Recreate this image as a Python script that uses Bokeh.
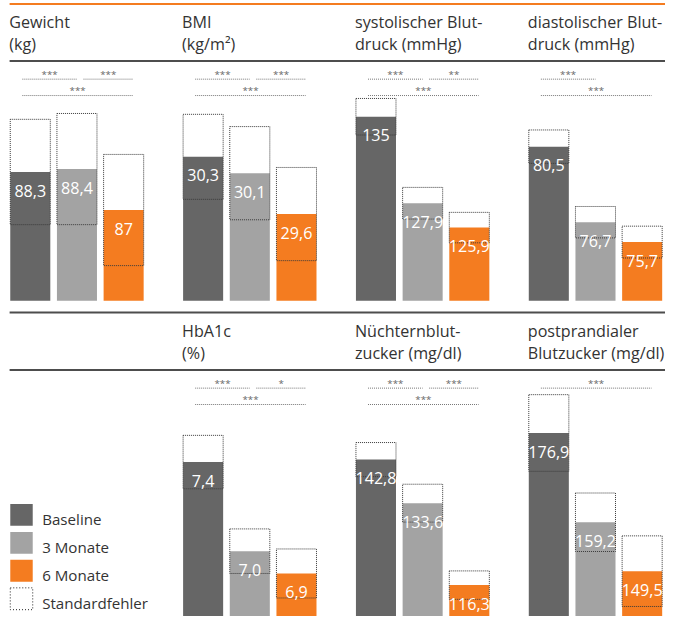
from bokeh.plotting import figure
from bokeh.models import FactorRange, Range1d, ColumnDataSource
from bokeh.layouts import column
from bokeh.transform import dodge
from bokeh.embed import file_html
from bokeh.resources import INLINE
from bokeh.core.properties import value

# ---------------- data ----------------
series = ["Baseline", "3 Monate", "6 Monate"]
series_colors = ["#666666", "#a3a3a3", "#f47c20"]
se_label = "Standardfehler"

row1_keys = ["Gewicht", "BMI", "systolischer Blutdruck", "diastolischer Blutdruck"]
row1_titles = ["Gewicht\n(kg)", "BMI\n(kg/m²)", "systolischer Blut-\ndruck (mmHg)", "diastolischer Blut-\ndruck (mmHg)"]
row2_keys = ["Legende", "HbA1c", "Nüchternblutzucker", "postprandialer Blutzucker"]
row2_titles = ["", "HbA1c\n(%)", "Nüchternblut-\nzucker (mg/dl)", "postprandialer\nBlutzucker (mg/dl)"]

gewicht_mean = [88.3, 88.4, 87.0]
gewicht_se = [1.8, 1.9, 1.9]
gewicht_labels = ["88,3", "88,4", "87"]
gewicht_axis = [83.9, 90.83]
gewicht_sig = [(0, 1, "***"), (1, 2, "***"), (0, 2, "***")]

bmi_mean = [30.3, 30.1, 29.6]
bmi_se = [0.52, 0.57, 0.57]
bmi_labels = ["30,3", "30,1", "29,6"]
bmi_axis = [28.54, 31.02]
bmi_sig = [(0, 1, "***"), (1, 2, "***"), (0, 2, "***")]

sys_mean = [135.0, 127.9, 125.9]
sys_se = [1.5, 1.3, 1.25]
sys_labels = ["135", "127,9", "125,9"]
sys_axis = [119.9, 136.54]
sys_sig = [(0, 1, "***"), (1, 2, "**"), (0, 2, "***")]

dia_mean = [80.5, 76.7, 75.7]
dia_se = [0.84, 0.79, 0.8]
dia_labels = ["80,5", "76,7", "75,7"]
dia_axis = [72.75, 82.95]
dia_sig = [(0, 1, "***"), (0, 2, "***")]

hba1c_mean = [7.4, 7.0, 6.9]
hba1c_se = [0.12, 0.10, 0.11]
hba1c_labels = ["7,4", "7,0", "6,9"]
hba1c_axis = [6.65, 7.56]
hba1c_sig = [(0, 1, "***"), (1, 2, "*"), (0, 2, "***")]

fpg_mean = [142.8, 133.6, 116.3]
fpg_se = [3.6, 4.0, 3.0]
fpg_labels = ["142,8", "133,6", "116,3"]
fpg_axis = [107.0, 149.8]
fpg_sig = [(0, 1, "***"), (1, 2, "***"), (0, 2, "***")]

ppg_mean = [176.9, 159.2, 149.5]
ppg_se = [7.6, 5.8, 7.0]
ppg_labels = ["176,9", "159,2", "149,5"]
ppg_axis = [138.0, 178.2]
ppg_sig = [(0, 2, "***")]


def panel(mean, se, labels, axis, sig):
    return dict(mean=mean, se=se, labels=labels, axis=axis, sig=sig)


row1_panels = [panel(gewicht_mean, gewicht_se, gewicht_labels, gewicht_axis, gewicht_sig),
               panel(bmi_mean, bmi_se, bmi_labels, bmi_axis, bmi_sig),
               panel(sys_mean, sys_se, sys_labels, sys_axis, sys_sig),
               panel(dia_mean, dia_se, dia_labels, dia_axis, dia_sig)]
row2_panels = [None,
               panel(hba1c_mean, hba1c_se, hba1c_labels, hba1c_axis, hba1c_sig),
               panel(fpg_mean, fpg_se, fpg_labels, fpg_axis, fpg_sig),
               panel(ppg_mean, ppg_se, ppg_labels, ppg_axis, ppg_sig)]

# ---------------- layout / style ----------------
# layout positions below are given on a 681 x 632 design grid, drawn at 665 x 616
W, H = 665, 616
DES_H = 632
S = W / 681.0
FONT = "Open Sans"
TXT = "#333333"
RULE = "#4d4d4d"
ORANGE = "#f47c20"
BAR_W = 0.858
SHIFT = 0.069            # uniform categorical dodge of the whole row
TITLE_GAP = 22.7
LABEL_OFF = 19 * S
BASE_FIX = 0.43          # em correction for alphabetic baseline placement


def fs(px):
    return "%.2fpx" % (px * S)


row1_geom = dict(top=0, bottom=316, rules=[(3.5, ORANGE), (62, RULE)], header=62,
                 title_y=28.7, base=308, plot_top=100)
row2_geom = dict(top=316, bottom=632, rules=[(320, RULE), (379.2, RULE)], header=379,
                 title_y=345.7, base=645, plot_top=437)


def make_row(keys, titles, panels, g, with_legend=False):
    factors = [(k, s) for k in keys for s in series]
    xr = FactorRange(*factors, factor_padding=0.0, group_padding=0.703,
                     range_padding=0.069, range_padding_units="absolute")
    h = round((g["bottom"] - g["top"]) * H / DES_H)
    p = figure(width=W, height=h, x_range=xr, y_range=Range1d(g["bottom"], g["top"]),
               output_backend="svg", toolbar_location=None, min_border=0,
               x_axis_location=None, y_axis_location=None, outline_line_color=None)
    p.xgrid.visible = False
    p.ygrid.visible = False

    # per-panel value scales
    extra, kpxs = {}, {}
    for k, pn in zip(keys, panels):
        if pn is None:
            continue
        lo, hi = pn["axis"]
        kpx = (g["base"] - g["plot_top"]) / (hi - lo)
        kpxs[k] = kpx
        start = lo - (g["bottom"] - g["base"]) / kpx
        end = hi + (g["plot_top"] - g["top"]) / kpx
        extra[k] = Range1d(start, end)
    p.extra_y_ranges = extra

    # rules
    for y, c in g["rules"]:
        p.segment(x0=[(keys[0], series[0], SHIFT - 0.443)], x1=[(keys[-1], series[-1], 1.5)],
                  y0=[y], y1=[y], line_color=c, line_width=2)

    # titles
    tfs = 16.5
    for k, t in zip(keys, titles):
        if not t:
            continue
        for i, line in enumerate(t.split("\n")):
            p.text(x=[(k, series[0], SHIFT - 0.45)], y=[g["title_y"] + TITLE_GAP * i], text=[line],
                   text_align="left", text_baseline="alphabetic", text_color=TXT,
                   y_offset=-BASE_FIX * tfs * S,
                   text_font=value(FONT), text_font_size=fs(tfs))

    for k, pn in zip(keys, panels):
        if pn is None:
            continue
        lo, hi = pn["axis"]
        kpx = kpxs[k]
        # keep value labels inside the picture
        offs = [min(LABEL_OFF, ((g["bottom"] - 9) - (g["base"] - (m - lo) * kpx)) * S)
                for m in pn["mean"]]
        src = ColumnDataSource(dict(x=[(k, s) for s in series], top=pn["mean"],
                                    se2=[2 * e for e in pn["se"]], label=pn["labels"],
                                    color=series_colors, off=offs))
        xd = dodge("x", SHIFT, range=xr)
        p.vbar(x=xd, top="top", bottom=lo, width=BAR_W, fill_color="color",
               line_color=None, source=src, y_range_name=k)
        p.rect(x=xd, y="top", width=BAR_W, height="se2", fill_color=None,
               line_color="#3a3a3a", line_dash="1 1", line_width=1,
               source=src, y_range_name=k)
        p.text(x=xd, y="top", text="label", source=src, y_range_name=k,
               text_align="center", text_baseline="middle", y_offset="off",
               text_color="white", text_font=value(FONT), text_font_size=fs(16.5))

        # significance brackets
        sig = pn["sig"]
        x0s, x1s, ys, xm, st = [], [], [], [], []
        for a, b, stars in sig:
            level = 1 if (b - a == 1 or len(sig) == 1) else 2
            oa = -0.17 if a == 0 else 0.14
            ob = 0.0 if b == 1 else 0.2
            y = g["header"] + (18.7 if level == 1 else 35.5)
            x0s.append((k, series[a], SHIFT + oa))
            x1s.append((k, series[b], SHIFT + ob))
            ys.append(y)
            xm.append((k, series[a], SHIFT + ((b - a) + oa + ob) / 2))
            st.append(stars)
        p.segment(x0=x0s, x1=x1s, y0=ys, y1=ys, line_color="#777777",
                  line_dash="1 1", line_width=1)
        p.text(x=xm, y=ys, text=st, text_align="center", text_baseline="alphabetic",
               y_offset=-0.5 - BASE_FIX * 10 * S, text_color="#666666",
               text_font=value(FONT), text_font_size=fs(10))

    if with_legend:
        k = keys[0]
        names = series + [se_label]
        fills = series_colors + [None]
        lines = [None, None, None, "#222222"]
        top0, pitch, box = 516.5, 28.7, 22.4
        ycs = [top0 + pitch * i + box / 2 for i in range(len(names))]
        lsrc = ColumnDataSource(dict(x=[(k, series[0], SHIFT - 0.188)] * len(names), y=ycs,
                                     fill=fills, line=lines,
                                     tx=[(k, series[0], SHIFT + 0.255)] * len(names),
                                     ty=[yc + box / 2 for yc in ycs], name=names))
        p.rect(x="x", y="y", width=0.481, height=box, fill_color="fill", line_color="line",
               line_dash="1 2", line_width=1, source=lsrc)
        lfs = 15.5
        p.text(x="tx", y="ty", text="name", text_align="left", text_baseline="alphabetic",
               y_offset=-BASE_FIX * lfs * S, text_color=TXT, text_font=value(FONT),
               text_font_size=fs(lfs), source=lsrc)
    return p


p1 = make_row(row1_keys, row1_titles, row1_panels, row1_geom)
p2 = make_row(row2_keys, row2_titles, row2_panels, row2_geom, with_legend=True)
page = column(p1, p2, spacing=0)

open("out.html", "w").write(file_html(page, INLINE))
